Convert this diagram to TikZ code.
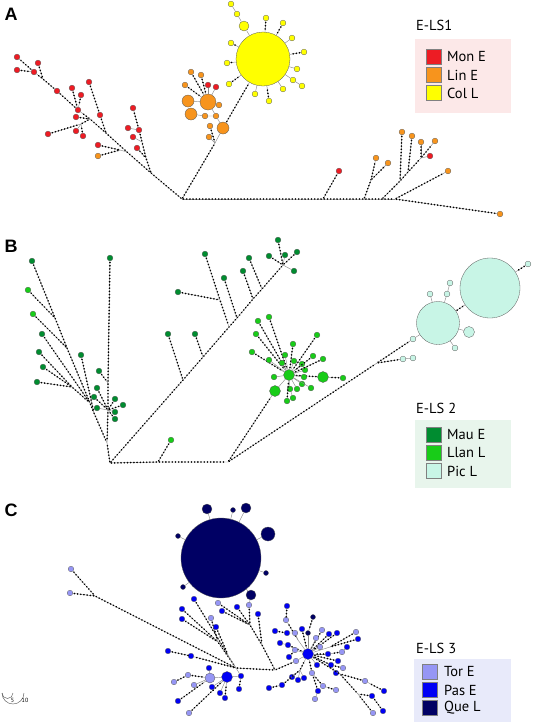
\documentclass[tikz,border=0pt]{standalone}
\usepackage{fontspec}
\setmainfont{PT Sans}
\newfontfamily\lblfont{Liberation Sans}
\usetikzlibrary{decorations.markings}

\definecolor{monred}{RGB}{237,28,36}
\definecolor{linorange}{RGB}{247,148,29}
\definecolor{colyellow}{RGB}{255,255,0}
\definecolor{maugreen}{RGB}{0,140,48}
\definecolor{llangreen}{RGB}{24,204,24}
\definecolor{piccyan}{RGB}{200,245,230}
\definecolor{torblue}{RGB}{150,150,245}
\definecolor{pasblue}{RGB}{0,0,245}
\definecolor{quenavy}{RGB}{0,0,100}
\definecolor{boxA}{RGB}{252,232,232}
\definecolor{boxB}{RGB}{232,245,236}
\definecolor{boxC}{RGB}{232,234,250}

\begin{document}
\begin{tikzpicture}[x=1pt,y=-1pt]

  \tikzset{
    hap/.style={circle,draw=black!65,line width=0.3pt,inner sep=0pt},
    hMon/.style={hap,fill=monred,minimum size=#1},   hMon/.default=5.8pt,
    hLin/.style={hap,fill=linorange,minimum size=#1}, hLin/.default=5.8pt,
    hCol/.style={hap,fill=colyellow,minimum size=#1}, hCol/.default=5.8pt,
    hMau/.style={hap,fill=maugreen,minimum size=#1},  hMau/.default=5.8pt,
    hLlan/.style={hap,fill=llangreen,minimum size=#1},hLlan/.default=5.8pt,
    hPic/.style={hap,fill=piccyan,minimum size=#1},   hPic/.default=5.8pt,
    hTor/.style={hap,fill=torblue,minimum size=#1},   hTor/.default=5.6pt,
    hPas/.style={hap,fill=pasblue,minimum size=#1},   hPas/.default=5.6pt,
    hQue/.style={hap,fill=quenavy,minimum size=#1},   hQue/.default=5pt,
    lnk/.style={draw=black!45,line width=0.45pt},
    mut/.style={lnk,postaction={decorate,decoration={markings,
        mark=between positions 1.5pt and -1.5pt step 3.2pt with {\fill[black] (0,0) circle (0.9pt);}}}},
    panel/.style={font=\lblfont\bfseries\fontsize{18}{18}\selectfont,inner sep=0pt},
    legttl/.style={font=\fontsize{14.5}{16}\selectfont,anchor=west,inner sep=0pt},
    legtxt/.style={font=\fontsize{14.5}{16}\selectfont,anchor=west,inner sep=0pt},
    legsq/.style={draw=black!50,line width=0.3pt,minimum size=15pt,inner sep=0pt},
    legbox/.style={draw=none,inner sep=0pt},
  }

  \useasboundingbox (0,0) rectangle (533,724);

  % ======== A ========

  \node[panel] (labA) at (11,14) {A};

  % left backbone
  \coordinate (jA0) at (182,199);
  \coordinate (jA1) at (151,173);
  \coordinate (jA2) at (127,152);
  \coordinate (jA3) at (106,133);
  \coordinate (jA4) at (90,119);
  \node[hMon] (mA6) at (78,110) {};
  \node[hMon] (mA1) at (57,91) {};
  \coordinate (jA5) at (43,79);
  \node[hMon] (mA2) at (34,72) {};
  \node[hMon] (mA3) at (17,57) {};
  \draw[mut] (jA0) -- (jA1) -- (jA2) -- (jA3) -- (jA4);
  \draw[mut] (jA4) -- (mA6);
  \draw[mut] (mA6) -- (mA1);
  \draw[mut] (mA1) -- (jA5) -- (mA2);
  \draw[mut] (mA2) -- (mA3);
  \node[hMon] (mA4) at (17,70) {};  \draw[mut] (mA4) -- (mA2);
  \node[hMon] (mA5) at (38,63) {};  \draw[mut] (mA5) -- (jA5);

  \node[hMon] (mA7) at (72,88) {};  \draw[mut] (mA7) -- (mA6);
  \node[hMon] (mA8) at (81,95) {};  \draw[mut] (mA8) -- (mA6);

  \coordinate (jA6) at (81,124);
  \draw[mut] (jA6) -- (jA4);
  \node[hMon] (mA9) at (76,117) {};  \draw[mut] (mA9) -- (jA4);
  \node[hMon] (mA10) at (48,134) {}; \draw[mut] (mA10) -- (jA6);
  \node[hMon] (mA11) at (76,131) {}; \draw[lnk] (mA11) -- (jA6);
  \node[hMon] (mA12) at (83,136) {}; \draw[mut] (mA12) -- (jA6);

  \node[hMon] (mA13) at (100,115) {}; \draw[mut] (mA13) -- (jA3);
  \node[hMon] (mA14) at (89,82) {};   \draw[mut] (mA14) -- (mA13);

  \coordinate (jA7) at (120,150);
  \draw[lnk] (jA7) -- (jA2);
  \node[hMon] (mA15) at (98,145) {}; \draw[mut] (mA15) -- (jA7);
  \node[hLin] (lA1) at (98,156) {};  \draw[mut] (lA1) -- (jA7);

  \coordinate (jA8) at (146,158);
  \coordinate (jA9) at (142,142);
  \node[hMon] (mA16) at (133,108) {};
  \node[hMon] (mA17) at (128,128) {};
  \node[hMon] (mA18) at (139,130) {};
  \node[hMon] (mA19) at (133,137) {};
  \node[hMon] (mA20) at (137,148) {};
  \draw[mut] (jA1) -- (jA8) -- (jA9) -- (mA18);
  \draw[mut] (mA18) -- (mA16);
  \draw[lnk] (mA17) -- (mA18);
  \draw[lnk] (mA19) -- (jA9);
  \draw[mut] (mA20) -- (jA8);

  % orange and yellow
  \coordinate (jA10) at (215,143);
  \node[hLin=12pt] (lA2) at (223,128) {};
  \draw[mut] (jA0) -- (jA10);
  \draw[lnk] (jA10) -- (lA2);
  \node[hLin] (lA3) at (209,137) {}; \draw[lnk] (lA3) -- (jA10);
  \node[hLin] (lA4) at (210,126) {}; \draw[mut] (lA4) -- (jA10);

  \node[hCol=54pt] (cL1) at (263,59) {};
  \draw[mut] (lA2) -- (cL1);

  \node[hLin=16pt] (lA5) at (208,102) {};
  \node[hLin=12pt] (lA6) at (188,101) {};
  \node[hLin=12pt] (lA7) at (191,114) {};
  \node[hLin] (lA8) at (205,116) {};
  \node[hLin] (lA9) at (216,116) {};
  \node[hLin] (lA10) at (219,105) {};
  \draw[lnk] (lA6) -- (lA5);
  \draw[lnk] (lA10) -- (lA5);
  \draw[lnk] (lA5) -- (lA9);
  \draw[lnk] (lA7) -- (lA8) -- (lA9);
  \draw[lnk] (lA9) -- (lA2);
  \node[hLin] (lA11) at (191,72) {}; \draw[mut] (lA11) -- (lA5);
  \node[hLin] (lA12) at (201,75) {}; \draw[mut] (lA12) -- (lA5);
  \node[hLin] (lA13) at (185,85) {}; \draw[mut] (lA13) -- (lA5);
  \node[hMon] (mA21) at (208,85) {}; \draw[lnk] (mA21) -- (lA5);
  \node[hMon] (mA22) at (216,87) {}; \draw[lnk] (mA22) -- (lA5);

  \node[hCol=10pt] (cL2) at (244,26) {}; \draw[lnk] (cL2) -- (cL1);
  \node[hCol] (cL3) at (237,14) {};  \draw[lnk] (cL3) -- (cL2);
  \node[hCol] (cL4) at (231,4) {};   \draw[lnk] (cL4) -- (cL3);
  \node[hCol] (cL5) at (231,43) {};  \draw[mut] (cL5) -- (cL1);
  \node[hCol] (cL6) at (227,63) {};  \draw[mut] (cL6) -- (cL1);
  \node[hCol] (cL7) at (229,84) {};  \draw[mut] (cL7) -- (cL1);
  \node[hCol] (cL8) at (255,94) {};  \draw[lnk] (cL8) -- (cL1);
  \node[hCol] (cL9) at (269,101) {}; \draw[mut] (cL9) -- (cL1);
  \node[hCol] (cL10) at (266,18) {}; \draw[mut] (cL10) -- (cL1);
  \node[hCol] (cL11) at (283,23) {}; \draw[mut] (cL11) -- (cL1);
  \node[hCol] (cL12) at (292,38) {}; \draw[lnk] (cL12) -- (cL1);
  \node[hCol] (cL13) at (304,52) {}; \draw[mut] (cL13) -- (cL1);
  \node[hCol] (cL14) at (297,69) {}; \draw[lnk] (cL14) -- (cL1);
  \node[hCol] (cL15) at (293,80) {}; \draw[lnk] (cL15) -- (cL1);
  \node[hCol] (cL16) at (302,86) {}; \draw[lnk] (cL16) -- (cL15);
  \node[hCol] (cL17) at (283,89) {}; \draw[lnk] (cL17) -- (cL1);

  % right part
  \coordinate (jA11) at (323,199);
  \coordinate (jA12) at (364,199);
  \coordinate (jA14) at (382,199);
  \coordinate (jA18) at (395,199);
  \draw[mut] (jA0) -- (jA11) -- (jA12) -- (jA14) -- (jA18);
  \node[hMon] (mA23) at (339,171) {}; \draw[mut] (jA11) -- (mA23);
  \coordinate (jA13) at (371,180);
  \node[hLin] (lA14) at (376,158) {};
  \node[hLin] (lA15) at (388,163) {};
  \draw[mut] (jA12) -- (jA13) -- (lA14);
  \draw[mut] (jA13) -- (lA15);
  \coordinate (jA19) at (400,181);
  \coordinate (jA20) at (408,172);
  \coordinate (jA16) at (421,158);
  \draw[mut] (jA14) -- (jA19) -- (jA20) -- (jA16);
  \node[hLin] (lA16) at (402,132) {}; \draw[mut] (lA16) -- (jA19);
  \node[hLin] (lA17) at (412,136) {}; \draw[mut] (lA17) -- (jA20);
  \node[hLin] (lA18) at (421,142) {}; \draw[mut] (jA16) -- (lA18);
  \node[hLin] (lA19) at (435,141) {}; \draw[mut] (jA16) -- (lA19);
  \node[hMon] (mA24) at (430,156) {}; \draw[lnk] (jA16) -- (mA24);
  \node[hLin] (lA20) at (448,171) {}; \draw[mut] (jA18) -- (lA20);
  \node[hLin] (lA21) at (500,214) {}; \draw[mut] (jA18) -- (lA21);

  % legend
  \node[legttl] (ttlA) at (416,25) {E-LS1};
  \node[legbox,fill=boxA,minimum width=96pt,minimum height=74pt] (boxA) at (463,76) {};
  \node[legsq,fill=monred] (sqA1) at (433.5,57) {};
  \node[legsq,fill=linorange] (sqA2) at (433.5,75) {};
  \node[legsq,fill=colyellow] (sqA3) at (433.5,93) {};
  \node[legtxt] at (447,57) {Mon E};
  \node[legtxt] at (447,75) {Lin E};
  \node[legtxt] at (447,93) {Col L};

  % ======== B ========

  \node[panel] (labB) at (11,246) {B};

  \coordinate (jB0) at (110,463);
  \coordinate (jB1) at (158,462);
  \coordinate (jB2) at (228,462);
  \draw[mut] (jB0) -- (jB1) -- (jB2);
  \node[hLlan] (lgB0) at (171,440) {}; \draw[mut] (jB1) -- (lgB0);

  % left fan
  \coordinate (jB10) at (107,443);
  \coordinate (jB9) at (108,383);
  \coordinate (jB7) at (108,410);
  \draw[mut] (jB0) -- (jB10);
  \node[hMau] (gB1) at (110,258) {};
  \draw[mut] (gB1) -- (jB9) -- (jB7) -- (jB10);
  \coordinate (jB11) at (55,318);
  \coordinate (jB12) at (67,348);
  \coordinate (jB13) at (90,403);
  \coordinate (jB16) at (94,413);
  \node[hMau] (gB2) at (32,261) {};
  \draw[mut] (gB2) -- (jB11) -- (jB12) -- (jB13) -- (jB16) -- (jB10);
  \node[hLlan] (lgB1) at (28,290) {}; \draw[mut] (lgB1) -- (jB11);
  \node[hLlan] (lgB2) at (33,314) {}; \draw[mut] (lgB2) -- (jB12);
  \node[hMau] (gB3) at (42,334) {};   \draw[mut] (gB3) -- (jB13);
  \coordinate (jB14) at (72,387);
  \draw[mut] (jB14) -- (jB13);
  \node[hMau] (gB4) at (39,352) {};   \draw[mut] (gB4) -- (jB14);
  \node[hMau] (gB5) at (43,367) {};   \draw[mut] (gB5) -- (jB14);
  \node[hMau] (gB6) at (37,382) {};   \draw[mut] (gB6) -- (jB14);
  \node[hMau] (gB7) at (81,355) {};   \draw[mut] (gB7) -- (jB16);
  \node[hMau] (gB8) at (99,371) {};   \draw[mut] (gB8) -- (jB9);
  \node[hMau] (gB9) at (97,388) {};   \draw[mut] (gB9) -- (jB7);
  \node[hMau] (gB10) at (94,397) {};  \draw[mut] (gB10) -- (jB7);
  \node[hMau] (gB11) at (97,408) {};  \draw[lnk] (gB11) -- (jB7);
  \node[hMau] (gB12) at (115,399) {}; \draw[mut] (gB12) -- (jB7);
  \node[hMau] (gB13) at (123,405) {}; \draw[mut] (gB13) -- (jB7);
  \node[hMau] (gB14) at (115,412) {}; \draw[lnk] (gB14) -- (jB7);
  \node[hMau] (gB15) at (115,419) {}; \draw[mut] (gB15) -- (jB7);

  % long diagonal
  \coordinate (jB17) at (183,380);
  \coordinate (jB18) at (203,357);
  \coordinate (jB19) at (229,327);
  \coordinate (jB20) at (237,318);
  \coordinate (jB21) at (253,299);
  \coordinate (jB24) at (262,289);
  \coordinate (jB22) at (283,265);
  \draw[mut] (jB0) -- (jB17) -- (jB18) -- (jB19) -- (jB20) -- (jB21) -- (jB24) -- (jB22);
  \node[hMau] (gB16) at (168,334) {}; \draw[mut] (gB16) -- (jB17);
  \node[hMau] (gB17) at (195,334) {}; \draw[mut] (gB17) -- (jB18);
  \coordinate (jB23) at (220,300);
  \draw[mut] (jB23) -- (jB19);
  \node[hMau] (gB18) at (205,254) {}; \draw[mut] (gB18) -- (jB23);
  \node[hMau] (gB19) at (178,292) {}; \draw[mut] (gB19) -- (jB23);
  \node[hMau] (gB20) at (224,278) {}; \draw[mut] (gB20) -- (jB20);
  \node[hMau] (gB21) at (243,271) {}; \draw[mut] (gB21) -- (jB21);
  \node[hMau] (gB22) at (249,258) {}; \draw[mut] (gB22) -- (jB24);
  \node[hMau] (gB23) at (269,256) {}; \draw[mut] (gB23) -- (jB22);
  \node[hMau] (gB24) at (278,240) {}; \draw[mut] (gB24) -- (jB22);
  \node[hMau] (gB25) at (285,255) {}; \draw[lnk] (gB25) -- (jB22);
  \node[hMau] (gB26) at (297,252) {}; \draw[mut] (gB26) -- (jB22);
  \node[hMau] (gB27) at (294,271) {}; \draw[lnk] (gB27) -- (jB22);

  % Llan star
  \node[hLlan=11pt] (lB1) at (289,375) {};
  \node[hLlan=11pt] (lB2) at (323,377) {};
  \node[hLlan=11pt] (lB3) at (275,391) {};
  \draw[mut] (jB2) -- (lB3);
  \draw[lnk] (lB3) -- (lB1);
  \draw[mut] (lB2) -- (lB1);
  \node[hLlan] (lsB0) at (343,378) {}; \draw[mut] (lsB0) -- (lB2);
  \node[hLlan] (lsB1) at (258,321) {}; \draw[mut] (lsB1) -- (lB1);
  \node[hLlan] (lsB2) at (269,317) {}; \draw[mut] (lsB2) -- (lB1);
  \node[hLlan] (lsB3) at (256,334) {}; \draw[mut] (lsB3) -- (lB1);
  \node[hLlan] (lsB4) at (252,352) {}; \draw[mut] (lsB4) -- (lB1);
  \node[hLlan] (lsB5) at (269,360) {}; \draw[lnk] (lsB5) -- (lB1);
  \node[hLlan] (lsB6) at (274,377) {}; \draw[lnk] (lsB6) -- (lB1);
  \node[hLlan] (lsB7) at (282,363) {}; \draw[lnk] (lsB7) -- (lB1);
  \node[hLlan] (lsB8) at (285,355) {}; \draw[lnk] (lsB8) -- (lB1);
  \node[hLlan] (lsB9) at (293,344) {}; \draw[mut] (lsB9) -- (lB1);
  \node[hLlan] (lsB10) at (294,361) {}; \draw[lnk] (lsB10) -- (lB1);
  \node[hLlan] (lsB11) at (302,364) {}; \draw[lnk] (lsB11) -- (lB1);
  \node[hLlan] (lsB12) at (305,370) {}; \draw[lnk] (lsB12) -- (lB1);
  \node[hLlan] (lsB13) at (304,377) {}; \draw[lnk] (lsB13) -- (lB1);
  \node[hLlan] (lsB14) at (313,356) {}; \draw[mut] (lsB14) -- (lB1);
  \node[hLlan] (lsB15) at (317,335) {}; \draw[mut] (lsB15) -- (lB1);
  \node[hLlan] (lsB16) at (323,359) {}; \draw[mut] (lsB16) -- (lB1);
  \node[hLlan] (lsB17) at (302,384) {}; \draw[lnk] (lsB17) -- (lB1);
  \node[hLlan] (lsB18) at (297,389) {}; \draw[lnk] (lsB18) -- (lB1);
  \node[hLlan] (lsB19) at (290,389) {}; \draw[lnk] (lsB19) -- (lB1);
  \node[hLlan] (lsB20) at (311,388) {}; \draw[lnk] (lsB20) -- (lB1);
  \node[hLlan] (lsB21) at (293,398) {}; \draw[lnk] (lsB21) -- (lsB19);
  \node[hLlan] (lsB22) at (287,401) {}; \draw[mut] (lsB22) -- (lB1);

  % Pic group
  \coordinate (jB26) at (377,363);
  \draw[mut] (jB2) -- (jB26);
  \node[hPic=43pt] (pB1) at (438,323) {};
  \node[hPic=60pt] (pB2) at (490,288) {};
  \draw[mut] (pB1) -- (pB2);
  \node[hPic] (pB3) at (528,264) {};  \draw[mut] (pB3) -- (pB2);
  \node[hPic] (pB4) at (450,283) {};
  \node[hPic] (pB6) at (447,294) {};
  \draw[lnk] (pB4) -- (pB6) -- (pB1);
  \node[hPic] (pB5) at (430,294) {};  \draw[lnk] (pB5) -- (pB1);
  \node[hPic=11pt] (pB7) at (469,332) {}; \draw[lnk] (pB7) -- (pB1);
  \node[hPic] (pB8) at (455,348) {};  \draw[lnk] (pB8) -- (pB1);
  \node[hPic] (pB9) at (413,339) {};  \draw[lnk] (pB9) -- (pB1);
  \draw[mut] (jB26) -- (pB9);
  \node[hPic] (pB10) at (403,359) {}; \draw[mut] (jB26) -- (pB10);
  \node[hPic] (pB11) at (413,358) {}; \draw[lnk] (pB10) -- (pB11);

  % legend
  \node[legttl] (ttlB) at (416,408) {E-LS 2};
  \node[legbox,fill=boxB,minimum width=96pt,minimum height=68pt] (boxB) at (463,454) {};
  \node[legsq,fill=maugreen] (sqB1) at (434,435) {};
  \node[legsq,fill=llangreen] (sqB2) at (434,453) {};
  \node[legsq,fill=piccyan] (sqB3) at (434,471) {};
  \node[legtxt] at (447,435) {Mau E};
  \node[legtxt] at (447,453) {Llan L};
  \node[legtxt] at (447,471) {Pic L};

  % ======== C ========

  \node[panel] (labC) at (11,510) {C};

  % Que star
  \node[hQue=80pt] (qC1) at (221,558) {};
  \node[hQue=10pt] (qC2) at (207,509) {}; \draw[lnk] (qC2) -- (qC1);
  \node[hQue] (qC3) at (233,510) {};      \draw[lnk] (qC3) -- (qC1);
  \node[hQue=10pt] (qC4) at (246,508) {}; \draw[lnk] (qC4) -- (qC1);
  \node[hQue=14pt] (qC5) at (268,534) {}; \draw[lnk] (qC5) -- (qC1);
  \node[hQue] (qC6) at (178,536) {};      \draw[lnk] (qC6) -- (qC1);
  \node[hQue] (qC7) at (266,573) {};      \draw[lnk] (qC7) -- (qC1);
  \node[hQue] (qC8) at (183,587) {};      \draw[lnk] (qC8) -- (qC1);
  \node[hQue=10pt] (qC9) at (251,595) {}; \draw[lnk] (qC9) -- (qC1);

  % long Tor branch
  \coordinate (jC0) at (236,668);
  \coordinate (jC1) at (95,596);
  \node[hTor] (tC1) at (71,569) {};  \draw[mut] (tC1) -- (jC1);
  \node[hTor] (tC2) at (70,593) {};  \draw[mut] (tC2) -- (jC1);
  \draw[mut] (jC1) -- (jC0);

  % upper left fan
  \coordinate (jC3) at (218,642);
  \coordinate (jC4) at (228,655);
  \draw[mut] (jC3) -- (jC0);
  \draw[lnk] (jC4) -- (jC0);
  \node[hPas] (pC1) at (194,599) {}; \draw[mut] (pC1) -- (jC4);
  \node[hPas] (pC2) at (182,609) {}; \draw[mut] (pC2) -- (jC3);
  \node[hPas] (pC3) at (182,619) {}; \draw[mut] (pC3) -- (jC3);
  \node[hTor] (tC3) at (211,618) {}; \draw[mut] (tC3) -- (jC3);
  \node[hPas] (pC4) at (216,627) {}; \draw[mut] (pC4) -- (jC4);
  \node[hPas] (pC8) at (168,651) {};
  \node[hPas] (pC9) at (191,656) {};
  \draw[mut] (pC8) -- (pC9) -- (jC0);

  % upper right fan
  \coordinate (jC5) at (250,625);
  \coordinate (jC6) at (262,645);
  \coordinate (jC7) at (275,670);
  \node[hTor] (tC4) at (218,603) {}; \draw[mut] (tC4) -- (jC5);
  \node[hPas] (pC5) at (222,611) {}; \draw[mut] (pC5) -- (jC5);
  \node[hPas] (pC6) at (237,607) {}; \draw[mut] (pC6) -- (jC5);
  \node[hTor] (tC5) at (249,605) {}; \draw[mut] (tC5) -- (jC5);
  \draw[lnk] (qC9) -- (tC5);
  \node[hPas] (pC7) at (258,614) {}; \draw[mut] (pC7) -- (jC6);
  \draw[mut] (jC5) -- (jC6) -- (jC7);
  \draw[mut] (jC0) -- (jC7);

  % lower left cluster
  \node[hTor=10pt] (tC6) at (210,678) {};
  \node[hPas=11pt] (pC10) at (227,677) {};
  \node[hPas] (pC11) at (241,676) {};
  \draw[lnk] (tC6) -- (pC10) -- (pC11) -- (jC0);
  \node[hTor] (tC7) at (188,675) {}; \draw[mut] (tC7) -- (tC6);
  \node[hTor] (tC8) at (174,682) {}; \draw[mut] (tC8) -- (tC7);
  \node[hTor] (tC9) at (194,685) {}; \draw[lnk] (tC9) -- (tC6);
  \node[hPas] (pC12) at (209,668) {}; \draw[lnk] (pC12) -- (tC6);
  \node[hPas] (pC13) at (178,701) {}; \draw[mut] (pC13) -- (tC6);
  \node[hTor] (tC10) at (189,713) {}; \draw[mut] (tC10) -- (pC10);
  \node[hPas] (pC14) at (212,687) {}; \draw[lnk] (pC14) -- (pC10);
  \node[hPas] (pC15) at (220,693) {}; \draw[lnk] (pC15) -- (pC10);
  \node[hPas] (pC16) at (225,698) {}; \draw[mut] (pC16) -- (pC10);
  \node[hPas] (pC17) at (239,689) {}; \draw[mut] (pC17) -- (pC11);

  % right star
  \node[hPas=11pt] (rC1) at (308,654) {};
  \node[hTor] (rC19) at (296,661) {};
  \draw[mut] (jC7) -- (rC19);
  \draw[lnk] (rC19) -- (rC1);
  \coordinate (jR1) at (298,640);
  \draw[lnk] (jR1) -- (rC1);
  \node[hPas] (rC2) at (287,606) {};
  \node[hTor] (rC3) at (286,620) {};
  \draw[mut] (rC2) -- (rC3) -- (jR1);
  \node[hQue] (rC4) at (313,617) {};
  \node[hQue] (rC5) at (308,633) {};
  \draw[mut] (rC4) -- (rC5);
  \draw[lnk] (rC5) -- (rC1);
  \node[hPas] (rC6) at (275,631) {};
  \node[hPas] (rC7) at (287,633) {};
  \node[hTor] (rC8) at (295,633) {};
  \draw[mut] (rC6) -- (rC7);
  \draw[lnk] (rC7) -- (rC8) -- (jR1);
  \node[hPas] (rC9) at (302,629) {};  \draw[mut] (rC9) -- (rC1);
  \node[hTor] (rC10) at (322,630) {}; \draw[mut] (rC10) -- (rC1);
  \node[hTor] (rC11) at (316,638) {}; \draw[lnk] (rC11) -- (rC1);
  \node[hPas] (rC12) at (329,634) {}; \draw[mut] (rC12) -- (rC1);
  \node[hPas] (rC13) at (337,633) {}; \draw[mut] (rC13) -- (rC1);
  \coordinate (jR2) at (330,647);
  \draw[lnk] (jR2) -- (rC1);
  \node[hTor] (rC14) at (356,632) {}; \draw[mut] (rC14) -- (jR2);
  \node[hPas] (rC15) at (358,639) {}; \draw[mut] (rC15) -- (jR2);
  \node[hPas] (rC16) at (280,643) {};
  \node[hPas] (rC17) at (288,645) {};
  \draw[lnk] (rC16) -- (rC17);
  \draw[mut] (rC17) -- (rC1);
  \node[hTor] (rC18) at (295,650) {}; \draw[lnk] (rC18) -- (rC1);
  \node[hPas] (rC20) at (289,657) {}; \draw[mut] (rC20) -- (rC18);
  \node[hTor] (rC21) at (320,647) {}; \draw[lnk] (rC21) -- (rC1);
  \node[hPas] (rC22) at (328,654) {}; \draw[mut] (rC22) -- (rC1);
  \node[hTor] (rC23) at (342,652) {}; \draw[mut] (rC23) -- (rC22);
  \node[hPas] (rC24) at (347,647) {}; \draw[lnk] (rC24) -- (rC23);
  \node[hPas] (rC25) at (338,661) {}; \draw[mut] (rC25) -- (rC1);
  \node[hPas] (rC26) at (317,665) {}; \draw[lnk] (rC26) -- (rC1);
  \node[hPas] (rC27) at (331,665) {}; \draw[mut] (rC27) -- (rC1);
  \node[hTor] (rC28) at (343,668) {}; \draw[mut] (rC28) -- (rC27);
  \node[hPas] (rC29) at (336,673) {}; \draw[lnk] (rC29) -- (rC27);
  \coordinate (jR4) at (300,670);
  \draw[mut] (jR4) -- (rC1);
  \node[hPas] (rC30) at (292,677) {}; \draw[lnk] (rC30) -- (jR4);
  \node[hPas] (rC31) at (298,680) {}; \draw[lnk] (rC31) -- (jR4);
  \node[hPas] (rC32) at (304,678) {}; \draw[lnk] (rC32) -- (jR4);
  \node[hTor] (rC33) at (312,673) {}; \draw[mut] (rC33) -- (rC1);
  \node[hPas] (rC34) at (282,685) {}; \draw[mut] (rC34) -- (jR4);
  \node[hPas] (rC35) at (269,688) {}; \draw[mut] (rC35) -- (rC34);
  \node[hTor] (rC36) at (323,686) {}; \draw[mut] (rC36) -- (rC33);
  \node[hPas] (rC37) at (318,691) {}; \draw[mut] (rC37) -- (rC33);
  \node[hTor] (rC38) at (336,690) {}; \draw[mut] (rC38) -- (rC36);
  \node[hTor] (rC39) at (315,699) {}; \draw[mut] (rC39) -- (rC37);
  \coordinate (jR7) at (340,674);
  \coordinate (jR8) at (358,694);
  \draw[mut] (rC1) -- (jR7) -- (jR8);
  \node[hTor] (rC40) at (365,681) {}; \draw[mut] (rC40) -- (jR7);
  \node[hPas] (rC41) at (384,691) {}; \draw[mut] (rC41) -- (rC40);
  \node[hPas] (rC42) at (372,696) {}; \draw[mut] (rC42) -- (jR8);
  \node[hTor] (rC43) at (373,713) {}; \draw[mut] (rC43) -- (jR8);
  \node[hPas] (rC44) at (383,711) {}; \draw[mut] (rC44) -- (rC42);

  % scale
  \draw[black!70,line width=0.4pt] (2,693) arc (180:0:5.5);
  \draw[black!70,line width=0.4pt] (2,693) arc (180:0:11);
  \node[font=\fontsize{6}{6}\selectfont,inner sep=0pt] (sc5) at (12.5,700.5) {5};
  \node[font=\fontsize{6}{6}\selectfont,inner sep=0pt] (sc10) at (25,700.5) {10};

  % legend
  \node[legttl] (ttlC) at (416,648) {E-LS 3};
  \node[legbox,fill=boxC,minimum width=97pt,minimum height=63pt] (boxC) at (462.5,690.5) {};
  \node[legsq,fill=torblue] (sqC1) at (430,672) {};
  \node[legsq,fill=pasblue] (sqC2) at (430,690) {};
  \node[legsq,fill=quenavy] (sqC3) at (430,708) {};
  \node[legtxt] at (444,672) {Tor E};
  \node[legtxt] at (444,690) {Pas E};
  \node[legtxt] at (444,708) {Que L};

\end{tikzpicture}
\end{document}
